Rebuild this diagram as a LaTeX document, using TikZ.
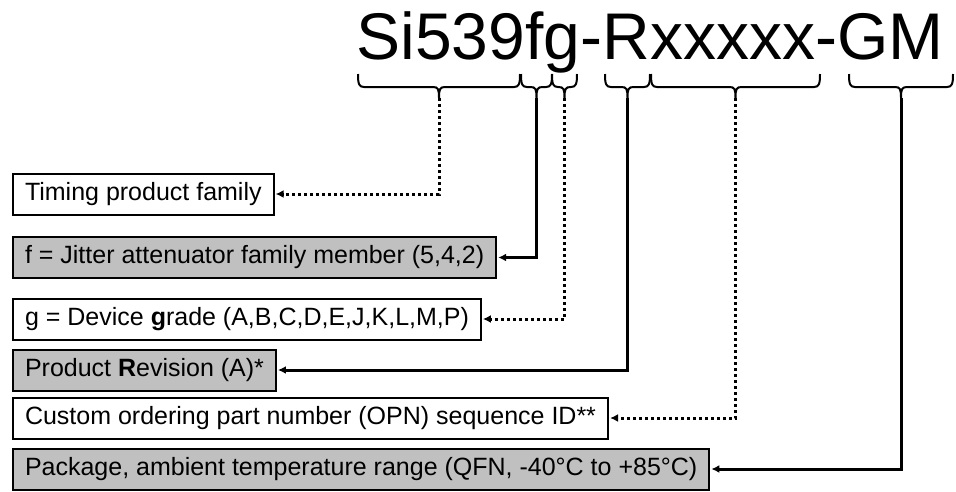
\documentclass[tikz,border=0pt]{standalone}
\usepackage{fontspec}
\setmainfont{Liberation Sans}
\usetikzlibrary{arrows.meta}
\definecolor{partgray}{RGB}{192,192,192}
\tikzset{
  fieldbox/.style={draw, line width=2pt, anchor=west, minimum height=41pt,
    inner xsep=12pt, inner ysep=0pt, font=\fontsize{25}{30}\selectfont},
  grayfield/.style={fieldbox, fill=partgray},
  solidlink/.style={line width=3pt, -{Latex[length=8pt,width=8pt]}, shorten >=1pt},
  dotlink/.style={solidlink, dash pattern=on 3pt off 3pt},
  bracket/.style={line width=2pt, line join=round},
}
% brace under the part number: left x, right x, name of the tip
\newcommand{\partbrace}[3]{%
  \pgfmathsetmacro{\bmid}{(#1+#2)/2}
  \draw[bracket] (#1,74) .. controls (#1,84) and (#1+1,87) .. (#1+6,87)
    -- (\bmid-6,87) .. controls (\bmid-1,87) and (\bmid,89) .. (\bmid,98)
    .. controls (\bmid,89) and (\bmid+1,87) .. (\bmid+6,87)
    -- (#2-6,87) .. controls (#2-1,87) and (#2,84) .. (#2,74);
  \coordinate (#3) at (\bmid,98);
}
\begin{document}
\begin{tikzpicture}[x=1pt,y=-1pt]
  \useasboundingbox (0,0) rectangle (956,491);
  \node[anchor=base, inner sep=0pt, font=\fontsize{66}{70}\selectfont] (code) at (650,59) {Si539fg-Rxxxxx-GM};

  \partbrace{358}{520}{tfam}
  \partbrace{521}{552}{tmem}
  \partbrace{552}{577}{tgrade}
  \partbrace{605}{650}{trev}
  \partbrace{651}{820}{topn}
  \partbrace{849}{953}{tpack}

  \node[fieldbox] (family) at (12,194) {Timing product family};
  \node[grayfield] (member) at (12,257.5) {f = Jitter attenuator family member (5,4,2)};
  \node[fieldbox] (grade) at (12,319) {g = Device \textbf{g}rade (A,B,C,D,E,J,K,L,M,P)};
  \node[grayfield] (revision) at (12,370) {Product \textbf{R}evision (A)*};
  \node[fieldbox] (opn) at (12,418) {Custom ordering part number (OPN) sequence ID**};
  \node[grayfield] (package) at (12,469) {Package, ambient temperature range (QFN, -40°C to +85°C)};

  \draw[dotlink] (tfam) |- (family.east);
  \draw[solidlink] (tmem) |- (member.east);
  \draw[dotlink] (tgrade) |- (grade.east);
  \draw[solidlink] (trev) |- (revision.east);
  \draw[dotlink] (topn) |- (opn.east);
  \draw[solidlink] (tpack) |- (package.east);
\end{tikzpicture}
\end{document}
